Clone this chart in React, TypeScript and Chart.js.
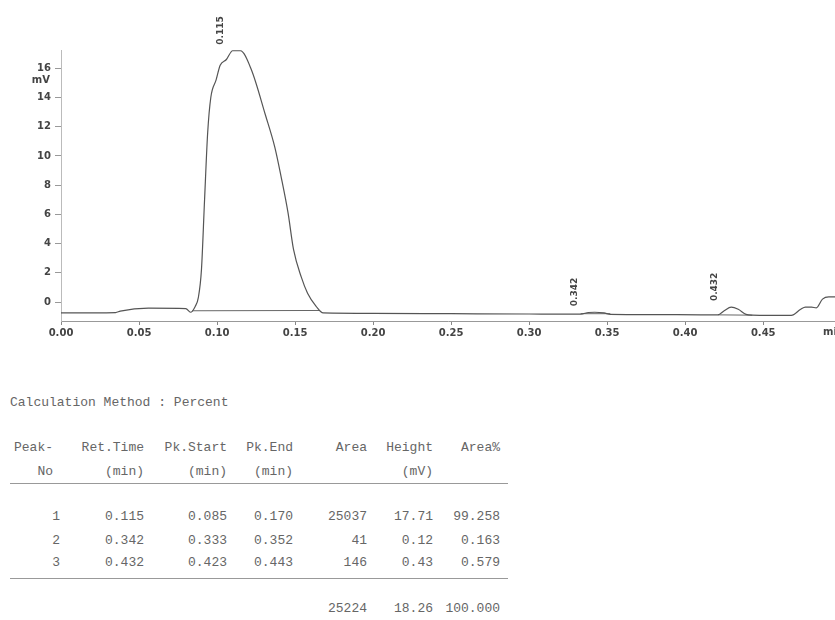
import React, { useEffect, useRef } from "react";
import { Chart, registerables } from "chart.js";

Chart.register(...registerables);

// ---- chromatogram data ----
const timeMin = [0, 0.035, 0.038, 0.056, 0.080, 0.083, 0.086, 0.088, 0.090, 0.092, 0.094, 0.096, 0.0994, 0.102, 0.106, 0.110, 0.115, 0.122, 0.131, 0.137, 0.141, 0.1455, 0.149, 0.154, 0.158, 0.1635, 0.168, 0.20, 0.25, 0.30, 0.333, 0.338, 0.342, 0.348, 0.352, 0.38, 0.41, 0.421, 0.425, 0.4295, 0.434, 0.439, 0.443, 0.468, 0.474, 0.477, 0.481, 0.484, 0.488, 0.492, 0.496];
const signalMv = [-0.75, -0.72, -0.62, -0.42, -0.45, -0.7, -0.3, 0.3, 2.2, 7, 11.6, 14, 15.2, 16.2, 16.6, 17.2, 17.2, 15.9, 12.8, 10.6, 8.6, 6.1, 3.6, 1.7, 0.6, -0.3, -0.75, -0.78, -0.8, -0.82, -0.83, -0.72, -0.7, -0.75, -0.84, -0.86, -0.88, -0.88, -0.6, -0.35, -0.5, -0.85, -0.9, -0.92, -0.5, -0.35, -0.35, -0.4, 0.2, 0.35, 0.35];

// integration baselines (start/end time and level), one segment per peak
const baseStartTime = [0.084, 0.333, 0.421];
const baseStartMv = [-0.6, -0.8, -0.88];
const baseEndTime = [0.166, 0.352, 0.443];
const baseEndMv = [-0.58, -0.8, -0.9];

// peak annotations
const peakLabels = ["0.115", "0.342", "0.432"];
const peakApexTime = [0.115, 0.342, 0.432];
const peakApexMv = [17.2, -0.7, -0.35];

const xTickValues = [0, 0.05, 0.1, 0.15, 0.2, 0.25, 0.3, 0.35, 0.4, 0.45];
const yTickValues = [0, 2, 4, 6, 8, 10, 12, 14, 16];

// ---- result table ----
const peakNo = ["1", "2", "3"];
const retTime = ["0.115", "0.342", "0.432"];
const pkStart = ["0.085", "0.333", "0.423"];
const pkEnd = ["0.170", "0.352", "0.443"];
const areaVals = ["25037", "41", "146"];
const heightVals = ["17.71", "0.12", "0.43"];
const areaPct = ["99.258", "0.163", "0.579"];
const totals = ["", "", "", "", "25224", "18.26", "100.000"];
const header1 = ["Peak-", "Ret.Time", "Pk.Start", "Pk.End", "Area", "Height", "Area%"];
const header2 = ["No", "(min)", "(min)", "(min)", "", "(mV)", ""];

const colRight = [60, 144, 227, 293, 367, 433, 500];
const headRight = [53, 144, 227, 293, 367, 433, 500];

const annotPlugin = {
  id: "annot",
  afterDraw(chart: any) {
    const ctx = chart.ctx;
    const xs = chart.scales.x;
    const ys = chart.scales.y;
    ctx.save();
    ctx.fillStyle = "#444";
    ctx.font = "bold 9px 'DejaVu Sans'";
    for (let i = 0; i < peakLabels.length; i++) {
      const px = xs.getPixelForValue(peakApexTime[i]) - 20;
      const py = ys.getPixelForValue(peakApexMv[i]) - 6;
      ctx.save();
      ctx.translate(px, py);
      ctx.rotate(-Math.PI / 2);
      ctx.textAlign = "left";
      ctx.textBaseline = "middle";
      ctx.fillText(peakLabels[i], 0, 0);
      ctx.restore();
    }
    ctx.font = "bold 10px 'DejaVu Sans'";
    ctx.textAlign = "right";
    ctx.textBaseline = "middle";
    ctx.fillText("mV", 50, ys.getPixelForValue(16) + 12);
    ctx.textAlign = "left";
    ctx.fillText("min", chart.chartArea.right - 12, chart.chartArea.bottom + 11);
    ctx.restore();
  },
};

function ChromChart() {
  const ref = useRef<HTMLCanvasElement | null>(null);
  useEffect(() => {
    if (!ref.current) return;
    const signal = timeMin.map((t, i) => ({ x: t, y: signalMv[i] }));
    const base: any[] = [];
    for (let i = 0; i < baseStartTime.length; i++) {
      base.push({ x: baseStartTime[i], y: baseStartMv[i] });
      base.push({ x: baseEndTime[i], y: baseEndMv[i] });
      base.push({ x: baseEndTime[i] + 0.0005, y: null });
    }
    const chart = new Chart(ref.current, {
      type: "line",
      data: {
        datasets: [
          {
            data: signal,
            borderColor: "#555",
            borderWidth: 1.2,
            pointRadius: 0,
            cubicInterpolationMode: "monotone",
          },
          {
            data: base,
            borderColor: "#666",
            borderWidth: 1,
            pointRadius: 0,
            spanGaps: false,
          },
        ],
      },
      options: {
        animation: false,
        responsive: false,
        layout: { padding: { top: 50, left: 0, right: 0, bottom: 0 } },
        plugins: { legend: { display: false }, tooltip: { enabled: false } },
        scales: {
          x: {
            type: "linear",
            min: 0,
            max: 0.496,
            afterBuildTicks: (s: any) => {
              s.ticks = xTickValues.map((v) => ({ value: v }));
            },
            afterFit: (s: any) => {
              s.height = 24;
            },
            grid: { drawOnChartArea: false, drawTicks: true, tickLength: 4, color: "#888" },
            border: { color: "#999", width: 1 },
            ticks: {
              color: "#444",
              font: { family: "DejaVu Sans", size: 10, weight: "bold" },
              padding: 2,
              maxRotation: 0,
              autoSkip: false,
              callback: (v: any) => Number(v).toFixed(2),
            },
          },
          y: {
            type: "linear",
            min: -1.3,
            max: 17.25,
            afterBuildTicks: (s: any) => {
              s.ticks = yTickValues.map((v) => ({ value: v }));
            },
            afterFit: (s: any) => {
              s.width = 61;
            },
            grid: { drawOnChartArea: false, drawTicks: true, tickLength: 6, color: "#999" },
            border: { color: "#bbb", width: 1 },
            ticks: {
              color: "#444",
              font: { family: "DejaVu Sans", size: 10, weight: "bold" },
              padding: 4,
              autoSkip: false,
            },
          },
        },
      } as any,
      plugins: [annotPlugin],
    });
    return () => chart.destroy();
  }, []);
  return <canvas ref={ref} width={835} height={345} style={{ position: "absolute", left: 0, top: 0 }} />;
}

const txt: React.CSSProperties = {
  position: "absolute",
  fontFamily: "'Liberation Mono', monospace",
  fontSize: 13,
  lineHeight: "16px",
  color: "#666",
  whiteSpace: "pre",
};

function Row({ cells, rights, center }: { cells: string[]; rights: number[]; center: number }) {
  return (
    <>
      {cells.map((c, i) =>
        c ? (
          <div key={i} style={{ ...txt, top: center - 8, right: 835 - rights[i], textAlign: "right" }}>
            {c}
          </div>
        ) : null
      )}
    </>
  );
}

export default function App() {
  const rowCenters = [517, 541, 563];
  return (
    <div style={{ position: "absolute", left: 0, top: 0, width: 835, height: 620, background: "#fff", overflow: "hidden" }}>
      <ChromChart />
      <div style={{ ...txt, left: 10, top: 403 - 8 }}>Calculation Method : Percent</div>
      <Row cells={header1} rights={headRight} center={448} />
      <Row cells={header2} rights={headRight} center={472} />
      <div style={{ position: "absolute", left: 10, top: 483, width: 498, height: 1, background: "#999" }} />
      {peakNo.map((_, i) => (
        <Row
          key={i}
          cells={[peakNo[i], retTime[i], pkStart[i], pkEnd[i], areaVals[i], heightVals[i], areaPct[i]]}
          rights={colRight}
          center={rowCenters[i]}
        />
      ))}
      <div style={{ position: "absolute", left: 10, top: 578, width: 498, height: 1, background: "#999" }} />
      <Row cells={totals} rights={colRight} center={609} />
    </div>
  );
}
